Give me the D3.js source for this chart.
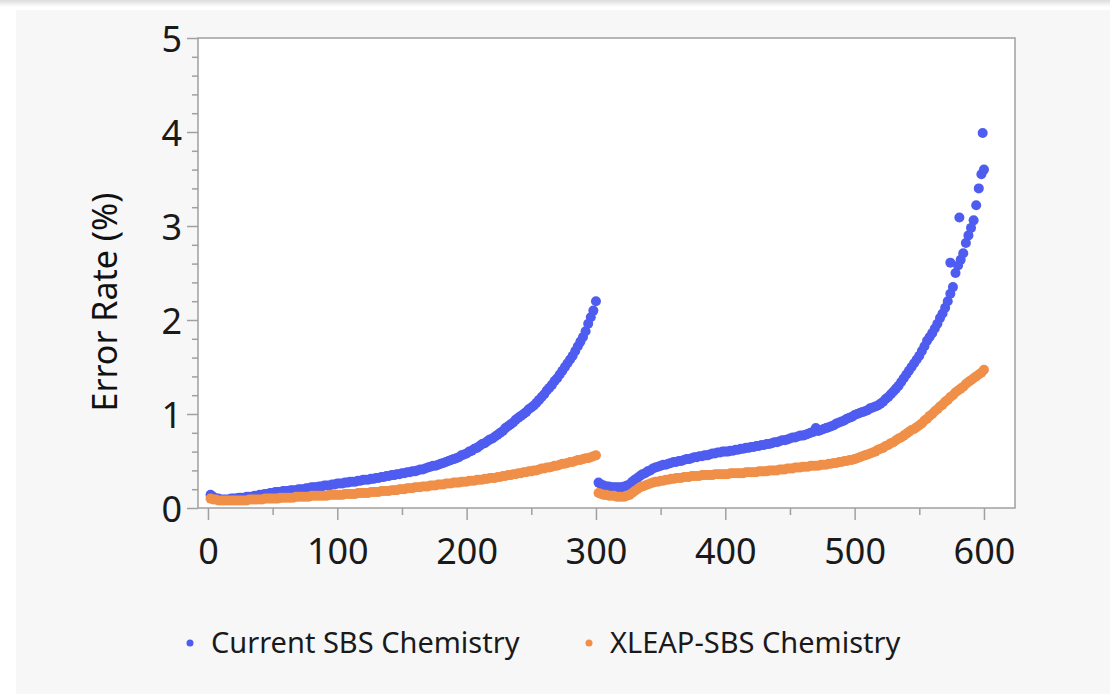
<!DOCTYPE html>
<html>
<head>
<meta charset="utf-8">
<script src="https://cdn.jsdelivr.net/npm/d3@7"></script>
<style>
	body { margin: 0; background: #fff; }
	svg { display: block; font-family: "Segoe UI", "Noto Sans", sans-serif; }
</style>
</head>
<body>
<svg id="chart" width="1110" height="694"></svg>
<script>
/*=================
=== Data (every 2nd cycle)
=================*/
const cycles = d3.range(2, 601, 2); // sequencing cycle, read 1 = 1-300, read 2 = 301-600

const currentSbs = [
	// read 1
	0.14, 0.12, 0.10, 0.10, 0.09, 0.09, 0.09, 0.09, 0.10, 0.10, 0.10, 0.11, 0.11, 0.11, 0.12, 0.12, 0.12, 0.13, 0.13, 0.14, 0.14, 0.15, 0.15, 0.16, 0.16,
	0.17, 0.17, 0.17, 0.18, 0.18, 0.18, 0.19, 0.19, 0.19, 0.20, 0.20, 0.20, 0.21, 0.21, 0.22, 0.22, 0.22, 0.23, 0.23, 0.24, 0.24, 0.24, 0.25, 0.25, 0.26,
	0.26, 0.26, 0.27, 0.27, 0.28, 0.28, 0.28, 0.29, 0.29, 0.30, 0.30, 0.30, 0.31, 0.31, 0.32, 0.32, 0.33, 0.33, 0.34, 0.34, 0.35, 0.35, 0.36, 0.36, 0.37,
	0.37, 0.38, 0.38, 0.39, 0.39, 0.40, 0.41, 0.41, 0.42, 0.43, 0.44, 0.45, 0.45, 0.46, 0.47, 0.48, 0.49, 0.50, 0.51, 0.52, 0.53, 0.54, 0.56, 0.57, 0.58,
	0.60, 0.61, 0.63, 0.64, 0.66, 0.68, 0.69, 0.71, 0.73, 0.74, 0.76, 0.78, 0.80, 0.82, 0.85, 0.87, 0.89, 0.91, 0.94, 0.96, 0.98, 1.00, 1.02, 1.05, 1.07,
	1.09, 1.12, 1.15, 1.18, 1.21, 1.25, 1.28, 1.31, 1.35, 1.38, 1.42, 1.46, 1.50, 1.54, 1.58, 1.62, 1.67, 1.72, 1.77, 1.82, 1.88, 1.96, 2.03, 2.10, 2.20,
	// read 2
	0.27, 0.25, 0.24, 0.23, 0.23, 0.22, 0.22, 0.22, 0.22, 0.22, 0.23, 0.24, 0.25, 0.28, 0.30, 0.32, 0.34, 0.36, 0.37, 0.39, 0.40, 0.42, 0.43, 0.44, 0.45,
	0.46, 0.46, 0.47, 0.48, 0.49, 0.49, 0.50, 0.50, 0.51, 0.52, 0.52, 0.53, 0.54, 0.54, 0.55, 0.55, 0.56, 0.56, 0.57, 0.58, 0.58, 0.59, 0.59, 0.60, 0.60,
	0.60, 0.61, 0.61, 0.62, 0.62, 0.63, 0.63, 0.64, 0.64, 0.65, 0.65, 0.66, 0.66, 0.67, 0.67, 0.68, 0.68, 0.69, 0.70, 0.70, 0.71, 0.72, 0.72, 0.73, 0.74,
	0.75, 0.75, 0.76, 0.77, 0.77, 0.78, 0.79, 0.80, 0.81, 0.85, 0.82, 0.83, 0.84, 0.85, 0.86, 0.87, 0.88, 0.90, 0.91, 0.92, 0.93, 0.95, 0.96, 0.97, 0.99,
	1.00, 1.01, 1.02, 1.03, 1.04, 1.06, 1.07, 1.08, 1.09, 1.11, 1.13, 1.16, 1.18, 1.21, 1.24, 1.27, 1.30, 1.34, 1.38, 1.42, 1.46, 1.50, 1.54, 1.58, 1.62,
	1.67, 1.72, 1.78, 1.82, 1.86, 1.91, 1.96, 2.02, 2.07, 2.13, 2.20, 2.28, 2.35, 2.50, 2.58, 2.64, 2.71, 2.82, 2.90, 2.98, 3.06, 3.22, 3.40, 3.55, 3.60
];

// a few stray points of the current chemistry near the end of read 2
const currentOutlierCycles = [574, 581, 599];
const currentOutlierValues = [2.61, 3.09, 3.99];

const xleapSbs = [
	// read 1
	0.10, 0.09, 0.09, 0.08, 0.08, 0.08, 0.08, 0.08, 0.08, 0.08, 0.08, 0.08, 0.08, 0.08, 0.08, 0.09, 0.09, 0.09, 0.09, 0.09, 0.09, 0.10, 0.10, 0.10, 0.10,
	0.10, 0.10, 0.11, 0.11, 0.11, 0.11, 0.11, 0.11, 0.12, 0.12, 0.12, 0.12, 0.12, 0.12, 0.13, 0.13, 0.13, 0.13, 0.13, 0.13, 0.13, 0.14, 0.14, 0.14, 0.14,
	0.14, 0.14, 0.15, 0.15, 0.15, 0.15, 0.15, 0.16, 0.16, 0.16, 0.16, 0.16, 0.17, 0.17, 0.17, 0.17, 0.18, 0.18, 0.18, 0.18, 0.19, 0.19, 0.19, 0.20, 0.20,
	0.20, 0.21, 0.21, 0.21, 0.22, 0.22, 0.22, 0.23, 0.23, 0.23, 0.24, 0.24, 0.24, 0.25, 0.25, 0.25, 0.26, 0.26, 0.26, 0.27, 0.27, 0.27, 0.28, 0.28, 0.28,
	0.29, 0.29, 0.29, 0.30, 0.30, 0.30, 0.31, 0.31, 0.32, 0.32, 0.32, 0.33, 0.33, 0.34, 0.34, 0.35, 0.35, 0.36, 0.36, 0.37, 0.37, 0.38, 0.38, 0.39, 0.39,
	0.40, 0.40, 0.41, 0.42, 0.42, 0.43, 0.43, 0.44, 0.45, 0.45, 0.46, 0.47, 0.47, 0.48, 0.49, 0.49, 0.50, 0.51, 0.51, 0.52, 0.53, 0.53, 0.54, 0.55, 0.56,
	// read 2
	0.16, 0.15, 0.14, 0.14, 0.13, 0.13, 0.13, 0.12, 0.12, 0.12, 0.12, 0.13, 0.14, 0.16, 0.18, 0.20, 0.22, 0.23, 0.24, 0.25, 0.26, 0.27, 0.28, 0.28, 0.29,
	0.29, 0.30, 0.30, 0.31, 0.31, 0.32, 0.32, 0.32, 0.33, 0.33, 0.33, 0.34, 0.34, 0.34, 0.34, 0.35, 0.35, 0.35, 0.35, 0.35, 0.36, 0.36, 0.36, 0.36, 0.36,
	0.36, 0.37, 0.37, 0.37, 0.37, 0.37, 0.37, 0.38, 0.38, 0.38, 0.38, 0.38, 0.39, 0.39, 0.39, 0.39, 0.40, 0.40, 0.40, 0.40, 0.41, 0.41, 0.41, 0.42, 0.42,
	0.42, 0.43, 0.43, 0.43, 0.44, 0.44, 0.44, 0.45, 0.45, 0.45, 0.45, 0.46, 0.46, 0.46, 0.47, 0.47, 0.48, 0.48, 0.49, 0.49, 0.50, 0.50, 0.51, 0.51, 0.52,
	0.53, 0.54, 0.55, 0.56, 0.57, 0.58, 0.59, 0.60, 0.62, 0.63, 0.64, 0.66, 0.67, 0.69, 0.70, 0.72, 0.74, 0.75, 0.77, 0.79, 0.81, 0.83, 0.84, 0.86, 0.88,
	0.90, 0.93, 0.95, 0.98, 1.00, 1.03, 1.05, 1.08, 1.10, 1.13, 1.15, 1.18, 1.20, 1.23, 1.25, 1.27, 1.29, 1.32, 1.34, 1.36, 1.38, 1.40, 1.42, 1.44, 1.47
];

const seriesNames = ['Current SBS Chemistry', 'XLEAP-SBS Chemistry'];
const seriesColors = ['#4f5cf0', '#f08f48'];

const xTicks = [0, 100, 200, 300, 400, 500, 600];
const xMinorTicks = [50, 150, 250, 350, 450, 550];
const yTicks = [0, 1, 2, 3, 4, 5];
const yMinorTicks = [0.2, 0.4, 0.6, 0.8, 1.2, 1.4, 1.6, 1.8, 2.2, 2.4, 2.6, 2.8, 3.2, 3.4, 3.6, 3.8, 4.2, 4.4, 4.6, 4.8];

/*=================
=== Frame / layout
=================*/
const frame = { left: 198, top: 38, right: 1015, bottom: 508 };
const dotRadius = 5;

const svg = d3.select('#chart');

// light top shadow + gray panel
const defs = svg.append('defs');
const grad = defs.append('linearGradient')
	.attr('id', 'topShade')
	.attr('x1', 0).attr('y1', 0).attr('x2', 0).attr('y2', 1);
grad.append('stop').attr('offset', '0%').attr('stop-color', '#dcdcdc');
grad.append('stop').attr('offset', '100%').attr('stop-color', '#ffffff');

svg.append('rect')
	.attr('x', 0).attr('y', 0)
	.attr('width', 1110).attr('height', 7)
	.attr('fill', 'url(#topShade)');

svg.append('rect')
	.attr('x', 16).attr('y', 10)
	.attr('width', 1094).attr('height', 684)
	.attr('fill', '#f7f7f7');

svg.append('rect')
	.attr('x', frame.left).attr('y', frame.top)
	.attr('width', frame.right - frame.left)
	.attr('height', frame.bottom - frame.top)
	.attr('fill', '#fff');

/*=================
=== Scales
=================*/
const xScale = d3.scaleLinear()
	.domain([-7.7, 624])
	.range([frame.left, frame.right]);

const yScale = d3.scaleLinear()
	.domain([0, 5])
	.range([frame.bottom, frame.top]);

/*=================
=== Axes
=================*/
const axisColor = '#a0a0a0';
const labelColor = '#1a1a1a';

// minor ticks first
svg.append('g')
	.attr('class', 'axis axis-y-minor')
	.attr('transform', `translate(${frame.left}, 0)`)
	.call(d3.axisLeft(yScale).tickValues(yMinorTicks).tickSize(6).tickFormat(''));

svg.append('g')
	.attr('class', 'axis axis-x-minor')
	.attr('transform', `translate(0, ${frame.bottom})`)
	.call(d3.axisBottom(xScale).tickValues(xMinorTicks).tickSize(7).tickFormat(''));

const yAxis = svg.append('g')
	.attr('class', 'axis axis-y')
	.attr('transform', `translate(${frame.left}, 0)`)
	.call(d3.axisLeft(yScale).tickValues(yTicks).tickSize(11).tickPadding(5).tickFormat(d3.format('d')));

yAxis.selectAll('text')
	.attr('dy', '0.38em');

const xAxis = svg.append('g')
	.attr('class', 'axis axis-x')
	.attr('transform', `translate(0, ${frame.bottom})`)
	.call(d3.axisBottom(xScale).tickValues(xTicks).tickSize(12).tickPadding(18).tickFormat(d3.format('d')));

svg.selectAll('.axis .domain').remove();
svg.selectAll('.axis line')
	.attr('stroke', axisColor)
	.attr('stroke-width', 1.5);
svg.selectAll('.axis text')
	.attr('font-family', '"Segoe UI", "Noto Sans", sans-serif')
	.attr('font-size', 36)
	.attr('fill', labelColor);

// frame border
svg.append('rect')
	.attr('x', frame.left).attr('y', frame.top)
	.attr('width', frame.right - frame.left)
	.attr('height', frame.bottom - frame.top)
	.attr('fill', 'none')
	.attr('stroke', axisColor)
	.attr('stroke-width', 1.5);

// y axis title
svg.append('text')
	.attr('transform', 'translate(117, 302) rotate(-90)')
	.attr('text-anchor', 'middle')
	.attr('font-size', 34)
	.attr('fill', '#111')
	.text('Error Rate (%)');

/*=================
=== Points
=================*/
const blueData = cycles.map((c, i) => ({ cycle: c, rate: currentSbs[i] }))
	.concat(currentOutlierCycles.map((c, i) => ({ cycle: c, rate: currentOutlierValues[i] })));
const orangeData = cycles.map((c, i) => ({ cycle: c, rate: xleapSbs[i] }));

const plot = svg.append('g');

plot.selectAll('.dot-current')
	.data(blueData)
	.enter()
	.append('circle')
	.attr('class', 'dot-current')
	.attr('cx', d => xScale(d.cycle))
	.attr('cy', d => yScale(d.rate))
	.attr('r', dotRadius)
	.attr('fill', seriesColors[0]);

plot.selectAll('.dot-xleap')
	.data(orangeData)
	.enter()
	.append('circle')
	.attr('class', 'dot-xleap')
	.attr('cx', d => xScale(d.cycle))
	.attr('cy', d => yScale(d.rate))
	.attr('r', dotRadius)
	.attr('fill', seriesColors[1]);

/*=================
=== Legend
=================*/
const legendX = [190, 589];
const legend = svg.append('g')
	.selectAll('g')
	.data(seriesNames)
	.enter()
	.append('g')
	.attr('transform', (d, i) => `translate(${legendX[i]}, 643)`);

legend.append('circle')
	.attr('r', 3.5)
	.attr('fill', (d, i) => seriesColors[i]);

legend.append('text')
	.attr('x', 21)
	.attr('dy', '0.35em')
	.attr('font-size', 29)
	.attr('fill', labelColor)
	.text(d => d);
</script>
</body>
</html>
